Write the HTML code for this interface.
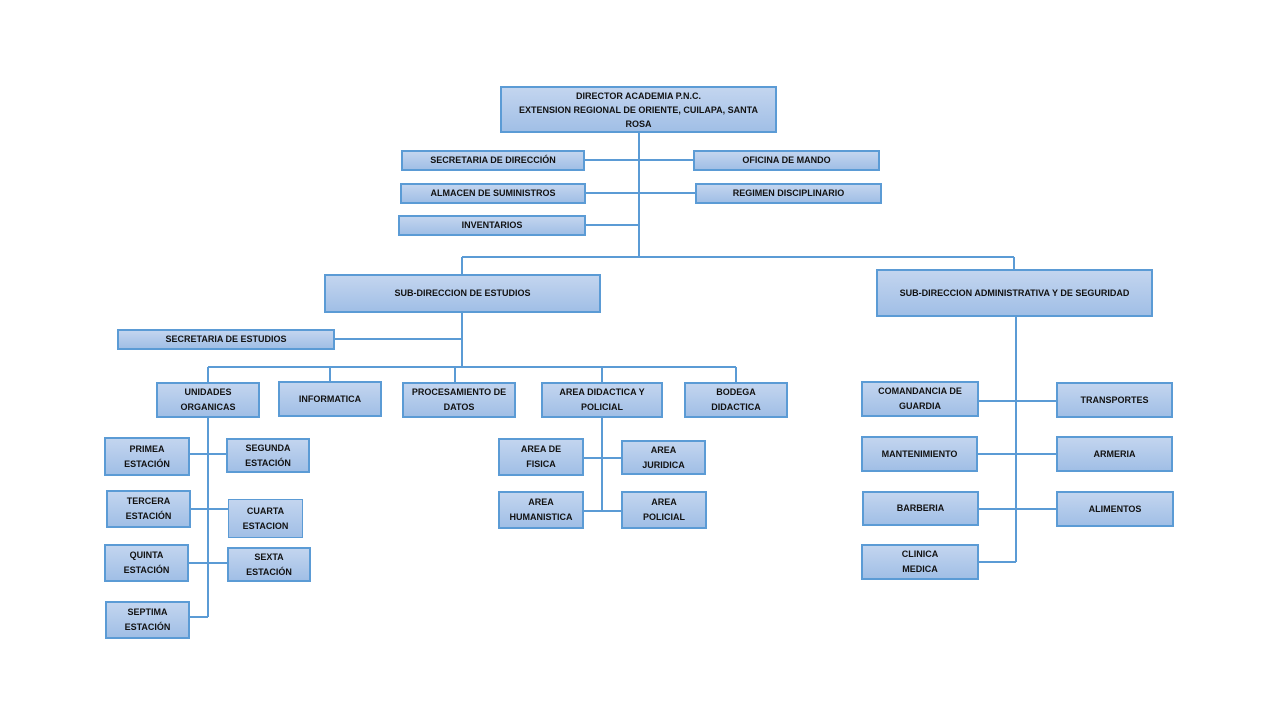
<!DOCTYPE html>
<html><head><meta charset="utf-8"><style>
body{margin:0;width:1280px;height:720px;background:#fff;position:relative;overflow:hidden;font-family:"Liberation Sans",Arial,sans-serif}
svg{position:absolute;left:0;top:0}
.b{position:absolute;box-sizing:border-box;border:2px solid #5b9bd5;background:linear-gradient(#c3d5ef,#a1bfe6);display:flex;align-items:center;justify-content:center;text-align:center;font-weight:bold;font-size:9px;letter-spacing:0;line-height:15px;color:#111}
</style></head><body>
<svg width="1280" height="720"><g stroke="#5b9bd5" stroke-width="2" fill="none">
<path d="M639 133V257M585 160H693M586 193H695M586 225H639M462 257H1014M462 257V274M1014 257V269"/>
<path d="M462 313V367M335 339H462M208 367H736M208 367V382M330 367V381M455 367V382M602 367V382M736 367V382"/>
<path d="M208 418V617M190 454H226M191 509H228M189 563H227M190 617H208"/>
<path d="M602 418V511M584 458H621M584 511H621"/>
<path d="M1016 317V562M979 401H1056M978 454H1056M979 509H1056M979 562H1016"/>
</g></svg>
<div class="b" style="left:500px;top:86px;width:277px;height:47px;line-height:14px">DIRECTOR ACADEMIA P.N.C.<br>EXTENSION REGIONAL DE ORIENTE, CUILAPA, SANTA<br>ROSA</div>
<div class="b" style="left:401px;top:150px;width:184px;height:21px">SECRETARIA DE DIRECCIÓN</div>
<div class="b" style="left:693px;top:150px;width:187px;height:21px">OFICINA DE MANDO</div>
<div class="b" style="left:400px;top:183px;width:186px;height:21px">ALMACEN DE SUMINISTROS</div>
<div class="b" style="left:695px;top:183px;width:187px;height:21px">REGIMEN DISCIPLINARIO</div>
<div class="b" style="left:398px;top:215px;width:188px;height:21px">INVENTARIOS</div>
<div class="b" style="left:324px;top:274px;width:277px;height:39px">SUB-DIRECCION DE ESTUDIOS</div>
<div class="b" style="left:876px;top:269px;width:277px;height:48px">SUB-DIRECCION ADMINISTRATIVA Y DE SEGURIDAD</div>
<div class="b" style="left:117px;top:329px;width:218px;height:21px">SECRETARIA DE ESTUDIOS</div>
<div class="b" style="left:156px;top:382px;width:104px;height:36px">UNIDADES<br>ORGANICAS</div>
<div class="b" style="left:278px;top:381px;width:104px;height:36px">INFORMATICA</div>
<div class="b" style="left:402px;top:382px;width:114px;height:36px">PROCESAMIENTO DE<br>DATOS</div>
<div class="b" style="left:541px;top:382px;width:122px;height:36px">AREA DIDACTICA Y<br>POLICIAL</div>
<div class="b" style="left:684px;top:382px;width:104px;height:36px">BODEGA<br>DIDACTICA</div>
<div class="b" style="left:104px;top:437px;width:86px;height:39px">PRIMEA<br>ESTACIÓN</div>
<div class="b" style="left:226px;top:438px;width:84px;height:35px">SEGUNDA<br>ESTACIÓN</div>
<div class="b" style="left:106px;top:490px;width:85px;height:38px">TERCERA<br>ESTACIÓN</div>
<div class="b" style="left:228px;top:499px;width:75px;height:39px;border-width:1px">CUARTA<br>ESTACION</div>
<div class="b" style="left:104px;top:544px;width:85px;height:38px">QUINTA<br>ESTACIÓN</div>
<div class="b" style="left:227px;top:547px;width:84px;height:35px">SEXTA<br>ESTACIÓN</div>
<div class="b" style="left:105px;top:601px;width:85px;height:38px">SEPTIMA<br>ESTACIÓN</div>
<div class="b" style="left:498px;top:438px;width:86px;height:38px">AREA DE<br>FISICA</div>
<div class="b" style="left:621px;top:440px;width:85px;height:35px">AREA<br>JURIDICA</div>
<div class="b" style="left:498px;top:491px;width:86px;height:38px">AREA<br>HUMANISTICA</div>
<div class="b" style="left:621px;top:491px;width:86px;height:38px">AREA<br>POLICIAL</div>
<div class="b" style="left:861px;top:381px;width:118px;height:36px">COMANDANCIA DE<br>GUARDIA</div>
<div class="b" style="left:1056px;top:382px;width:117px;height:36px">TRANSPORTES</div>
<div class="b" style="left:861px;top:436px;width:117px;height:36px">MANTENIMIENTO</div>
<div class="b" style="left:1056px;top:436px;width:117px;height:36px">ARMERIA</div>
<div class="b" style="left:862px;top:491px;width:117px;height:35px">BARBERIA</div>
<div class="b" style="left:1056px;top:491px;width:118px;height:36px">ALIMENTOS</div>
<div class="b" style="left:861px;top:544px;width:118px;height:36px">CLINICA<br>MEDICA</div>
</body></html>
